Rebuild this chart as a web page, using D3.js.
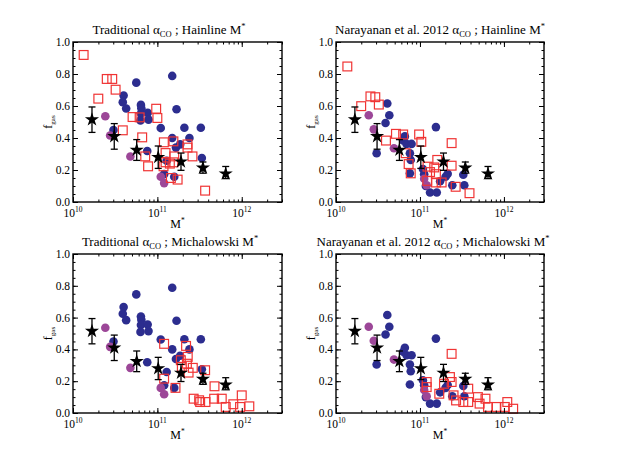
<!DOCTYPE html>
<html>
<head>
<meta charset="utf-8">
<script src="https://cdn.jsdelivr.net/npm/d3@7"></script>
<style>
  body { margin: 0; background: #ffffff; }
</style>
</head>
<body>
<svg id="chart" width="618" height="455"></svg>
<script>
// stacked averages (black stars), same in every panel -- log10 M*
const starLogM = [10.225, 10.489, 10.755, 11.01, 11.28, 11.54, 11.81];
const starF = [0.515, 0.41, 0.325, 0.28, 0.252, 0.213, 0.177];
const starLo = [0.435, 0.33, 0.26, 0.21, 0.198, 0.18, 0.146];
const starHi = [0.594, 0.49, 0.39, 0.35, 0.306, 0.25, 0.222];

// comparison samples, traditional alpha_CO (blue and purple circles)
const tradBlueM = [10.75, 11.176, 10.60, 10.59, 10.63, 10.805, 10.81, 10.805, 10.885, 10.895, 10.80, 11.227, 11.04, 11.32, 11.515, 11.176, 11.38, 10.48, 10.88, 11.22, 11.27, 11.11, 11.08, 11.20, 11.527];
const tradBlueF = [0.746, 0.788, 0.666, 0.624, 0.584, 0.607, 0.586, 0.553, 0.557, 0.515, 0.51, 0.58, 0.462, 0.464, 0.464, 0.40, 0.40, 0.45, 0.319, 0.34, 0.36, 0.258, 0.174, 0.158, 0.275];
const tradPurpM = [10.383, 10.44, 10.68, 11.04, 11.08];
const tradPurpF = [0.536, 0.416, 0.284, 0.158, 0.118];

// comparison samples, Narayanan et al. 2012 alpha_CO
const narBlueM = [10.611, 10.635, 10.59, 10.484, 10.82, 10.80, 10.84, 10.90, 10.88, 10.89, 10.88, 11.19, 11.035, 11.05, 11.07, 11.12, 11.20, 11.24, 11.305, 11.385, 11.516, 11.528, 11.33];
const narBlueF = [0.616, 0.542, 0.494, 0.305, 0.41, 0.385, 0.363, 0.363, 0.305, 0.263, 0.179, 0.468, 0.206, 0.174, 0.10, 0.059, 0.059, 0.13, 0.158, 0.105, 0.17, 0.105, 0.176];
const narPurpM = [10.39, 10.45, 10.69, 11.05, 11.08];
const narPurpF = [0.542, 0.454, 0.336, 0.145, 0.105];

// SMGs (red squares), one set per alpha_CO / M* combination
const tradHainM = [10.126, 10.30, 10.40, 10.465, 10.505, 10.59, 10.706, 10.79, 10.82, 10.856, 10.89, 10.986, 11.00, 11.077, 11.097, 11.097, 11.073, 11.148, 11.16, 11.19, 11.20, 11.24, 11.19, 11.357, 11.357, 11.416, 11.566];
const tradHainF = [0.919, 0.646, 0.769, 0.769, 0.702, 0.448, 0.531, 0.529, 0.404, 0.285, 0.223, 0.583, 0.525, 0.373, 0.306, 0.248, 0.223, 0.24, 0.15, 0.379, 0.285, 0.14, 0.248, 0.36, 0.34, 0.285, 0.071];
const narHainM = [10.135, 10.30, 10.41, 10.468, 10.51, 10.595, 10.714, 10.80, 10.83, 10.865, 10.89, 10.99, 11.016, 11.09, 11.12, 11.087, 11.17, 11.206, 11.19, 11.19, 11.258, 11.377, 11.377, 11.425, 11.59];
const narHainF = [0.847, 0.599, 0.66, 0.655, 0.609, 0.384, 0.426, 0.422, 0.305, 0.237, 0.179, 0.422, 0.376, 0.221, 0.187, 0.132, 0.216, 0.263, 0.174, 0.122, 0.122, 0.227, 0.368, 0.095, 0.055];
const tradMichM = [11.08, 11.08, 11.215, 11.278, 11.29, 11.34, 11.36, 11.37, 11.42, 11.566, 11.43, 11.495, 11.507, 11.57, 11.677, 11.673, 11.763, 11.81, 11.90, 12.0, 11.98, 12.09, 11.35];
const tradMichF = [0.435, 0.216, 0.158, 0.332, 0.29, 0.422, 0.353, 0.254, 0.284, 0.269, 0.09, 0.08, 0.069, 0.069, 0.168, 0.09, 0.09, 0.038, 0.055, 0.111, 0.038, 0.042, 0.31];
const narMichM = [11.377, 11.08, 11.08, 11.23, 11.286, 11.377, 11.40, 11.43, 11.516, 11.575, 11.575, 11.69, 11.71, 11.78, 11.81, 11.91, 12.01, 12.04, 12.11, 11.357];
const narMichF = [0.372, 0.163, 0.195, 0.121, 0.184, 0.195, 0.111, 0.079, 0.069, 0.069, 0.153, 0.10, 0.059, 0.09, 0.038, 0.038, 0.038, 0.069, 0.027, 0.226];

const xDomain = [1e10, 3e12];
const yDomain = [0, 1];
const yMajor = [0, 0.2, 0.4, 0.6, 0.8, 1.0];

const panels = [
  { alpha: "Traditional", mstar: "Hainline", blue: [tradBlueM, tradBlueF], purp: [tradPurpM, tradPurpF], red: [tradHainM, tradHainF],
    left: 73, right: 282, top: 42, bottom: 202, titleX: 169 },
  { alpha: "Narayanan et al. 2012", mstar: "Hainline", blue: [narBlueM, narBlueF], purp: [narPurpM, narPurpF], red: [narHainM, narHainF],
    left: 336, right: 544, top: 42, bottom: 202, titleX: 440 },
  { alpha: "Traditional", mstar: "Michalowski", blue: [tradBlueM, tradBlueF], purp: [tradPurpM, tradPurpF], red: [tradMichM, tradMichF],
    left: 73, right: 282, top: 254, bottom: 413, titleX: 170 },
  { alpha: "Narayanan et al. 2012", mstar: "Michalowski", blue: [narBlueM, narBlueF], purp: [narPurpM, narPurpF], red: [narMichM, narMichF],
    left: 336, right: 544, top: 254, bottom: 413, titleX: 433 }
];

const FONT = "'Liberation Serif', 'Times New Roman', Times, serif";

const svg = d3.select("#chart");
svg.append("rect").attr("width", 618).attr("height", 455).attr("fill", "#fff");

const zip = (a, b) => a.map((v, i) => [Math.pow(10, v), b[i]]);

panels.forEach(p => {
  const x = d3.scaleLog().domain(xDomain).range([p.left, p.right]);
  const y = d3.scaleLinear().domain(yDomain).range([p.bottom, p.top]);
  const g = svg.append("g");

  // title
  const t = g.append("text")
    .attr("x", p.titleX).attr("y", p.top - 8)
    .attr("text-anchor", "middle")
    .attr("font-family", FONT)
    .attr("font-size", 13);
  t.append("tspan").text(p.alpha + " \u03B1");
  t.append("tspan").attr("dy", 2.5).attr("font-size", 8.5).text("CO");
  t.append("tspan").attr("dy", -2.5).text(" ; " + p.mstar + " M");
  t.append("tspan").attr("dy", -5).attr("font-size", 8.5).text("*");

  // circles first, squares over them, stars on top
  g.append("g").selectAll("circle").data(zip(p.blue[0], p.blue[1])).join("circle")
    .attr("cx", d => x(d[0])).attr("cy", d => y(d[1])).attr("r", 4.3)
    .attr("fill", "#2c2d8f");
  g.append("g").selectAll("circle").data(zip(p.purp[0], p.purp[1])).join("circle")
    .attr("cx", d => x(d[0])).attr("cy", d => y(d[1])).attr("r", 4.3)
    .attr("fill", "#9c4798");
  g.append("g").selectAll("rect").data(zip(p.red[0], p.red[1])).join("rect")
    .attr("x", d => x(d[0]) - 4.4).attr("y", d => y(d[1]) - 4.4)
    .attr("width", 8.8).attr("height", 8.8)
    .attr("fill", "none").attr("stroke", "#f03434").attr("stroke-width", 1.2);

  const stars = starLogM.map((v, i) => ({ m: Math.pow(10, v), f: starF[i], lo: starLo[i], hi: starHi[i] }));
  const eb = g.append("g").attr("stroke", "#000").attr("stroke-width", 1.3);
  stars.forEach(s => {
    const cx = x(s.m);
    eb.append("line").attr("x1", cx).attr("x2", cx).attr("y1", y(s.lo)).attr("y2", y(s.hi));
    eb.append("line").attr("x1", cx - 3.5).attr("x2", cx + 3.5).attr("y1", y(s.lo)).attr("y2", y(s.lo));
    eb.append("line").attr("x1", cx - 3.5).attr("x2", cx + 3.5).attr("y1", y(s.hi)).attr("y2", y(s.hi));
  });
  g.append("g").selectAll("path").data(stars).join("path")
    .attr("transform", d => `translate(${x(d.m)},${y(d.f)})`)
    .attr("d", d3.symbol().type(d3.symbolStar).size(62))
    .attr("fill", "#000");

  // axes: ticks drawn inward on all four sides
  const minorX = x.ticks();
  const majorX = minorX.filter(v => Math.abs(Math.log10(v) - Math.round(Math.log10(v))) < 1e-9);
  const minorY = d3.range(0, 1.0001, 0.05);

  [[d3.axisBottom(x), `translate(0,${p.bottom})`], [d3.axisTop(x), `translate(0,${p.top})`]].forEach(([ax, tr]) => {
    g.append("g").attr("transform", tr)
      .call(ax.tickValues(minorX).tickSize(-2.5).tickSizeOuter(0).tickFormat(""));
    g.append("g").attr("transform", tr)
      .call(ax.tickValues(majorX).tickSize(-5).tickSizeOuter(0).tickFormat(""));
  });
  [[d3.axisLeft(y), `translate(${p.left},0)`], [d3.axisRight(y), `translate(${p.right},0)`]].forEach(([ax, tr]) => {
    g.append("g").attr("transform", tr)
      .call(ax.tickValues(minorY).tickSize(-2.5).tickSizeOuter(0).tickFormat(""));
    g.append("g").attr("transform", tr)
      .call(ax.tickValues(yMajor).tickSize(-5).tickSizeOuter(0).tickFormat(""));
  });
  g.selectAll(".domain").remove();
  g.selectAll(".tick line").attr("stroke", "#000").attr("stroke-width", 1);

  g.append("rect")
    .attr("x", p.left).attr("y", p.top)
    .attr("width", p.right - p.left).attr("height", p.bottom - p.top)
    .attr("fill", "none").attr("stroke", "#000").attr("stroke-width", 1.4);

  // tick labels
  g.append("g").selectAll("text").data(yMajor).join("text")
    .attr("x", p.left - 3).attr("y", d => y(d) + 4)
    .attr("text-anchor", "end")
    .attr("font-family", FONT)
    .attr("font-size", 11.5)
    .text(d3.format(".1f"));

  majorX.forEach(v => {
    const lab = g.append("text")
      .attr("x", x(v)).attr("y", p.bottom + 15)
      .attr("text-anchor", "middle")
      .attr("font-family", FONT)
      .attr("font-size", 11.5);
    lab.append("tspan").text("10");
    lab.append("tspan").attr("dy", -5).attr("font-size", 7.5).text(Math.round(Math.log10(v)));
  });

  // axis titles
  const xl = g.append("text")
    .attr("x", (p.left + p.right) / 2).attr("y", p.bottom + 26)
    .attr("text-anchor", "middle")
    .attr("font-family", FONT).attr("font-size", 12);
  xl.append("tspan").text("M");
  xl.append("tspan").attr("dy", -5).attr("font-size", 7.5).text("*");

  const yl = g.append("text")
    .attr("transform", `translate(${p.left - 21},${(p.top + p.bottom) / 2}) rotate(-90)`)
    .attr("text-anchor", "middle")
    .attr("font-family", FONT).attr("font-size", 12);
  yl.append("tspan").text("f");
  yl.append("tspan").attr("dy", 2.5).attr("font-size", 7).text("gas");
});
</script>
</body>
</html>
